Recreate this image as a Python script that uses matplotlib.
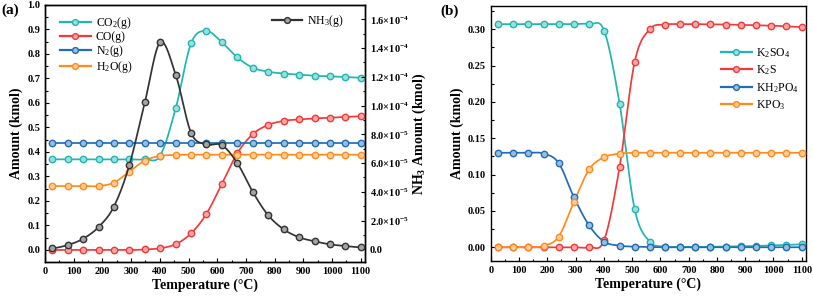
"""Equilibrium gas / potassium species vs temperature (two panels)."""

import matplotlib

matplotlib.use("Agg")
import matplotlib.pyplot as plt
import numpy as np
from matplotlib.colors import to_rgb
from matplotlib.ticker import FixedLocator, MultipleLocator

plt.rcParams["font.family"] = ["Liberation Serif", "DejaVu Serif"]
plt.rcParams["mathtext.default"] = "regular"

CYAN = "#1fb7b2"
RED = "#f23a3a"
BLUE = "#1f6db5"
ORANGE = "#ff8c1a"
BLACK = "#333333"

temps = [25, 79, 133, 187, 240, 294, 348, 401, 456, 509, 562,
         616, 670, 724, 777, 831, 885, 939, 992, 1046, 1100]

# panel (a), left axis
co2 = [0.370, 0.370, 0.370, 0.370, 0.370, 0.370, 0.370, 0.385, 0.581, 0.844, 0.894,
       0.848, 0.786, 0.744, 0.728, 0.720, 0.716, 0.711, 0.709, 0.706, 0.703]
co = [0.000, 0.000, 0.000, 0.000, 0.000, 0.000, 0.002, 0.007, 0.024, 0.068, 0.147,
      0.269, 0.395, 0.473, 0.510, 0.527, 0.533, 0.537, 0.540, 0.543, 0.546]
n2 = [0.436] * 21
h2o = [0.261, 0.261, 0.261, 0.261, 0.275, 0.320, 0.365, 0.384, 0.388, 0.389, 0.389,
       0.389, 0.389, 0.389, 0.389, 0.389, 0.389, 0.389, 0.389, 0.389, 0.389]
# panel (a), right axis
nh3 = [0.7e-6, 3.0e-6, 7.4e-6, 1.56e-5, 2.98e-5, 5.87e-5, 1.025e-4, 1.44e-4, 1.21e-4,
       8.1e-5, 7.3e-5, 7.25e-5, 6.0e-5, 3.99e-5, 2.38e-5, 1.40e-5, 8.4e-6, 5.6e-6,
       3.5e-6, 2.3e-6, 1.4e-6]

# panel (b)
k2so4 = [0.307, 0.307, 0.307, 0.307, 0.307, 0.307, 0.307, 0.298, 0.197, 0.0525, 0.0077,
         0.001, 0.0005, 0.0005, 0.0007, 0.001, 0.0013, 0.0018, 0.0025, 0.0033, 0.004]
k2s = [0.0, 0.0, 0.0, 0.0, 0.0, 0.0, 0.0, 0.010, 0.111, 0.255, 0.300,
       0.3065, 0.307, 0.307, 0.3068, 0.3065, 0.306, 0.3055, 0.305, 0.304, 0.303]
kh2po4 = [0.130, 0.130, 0.130, 0.129, 0.116, 0.069, 0.030, 0.0077, 0.0022, 0.0008, 0.0003,
          0.0, 0.0, 0.0, 0.0, 0.0, 0.0, 0.0, 0.0, 0.0, 0.0]
kpo3 = [0.0, 0.0, 0.0, 0.0018, 0.0145, 0.062, 0.107, 0.124, 0.1288, 0.130, 0.130,
        0.130, 0.130, 0.130, 0.130, 0.130, 0.130, 0.130, 0.130, 0.130, 0.130]

nh3_ticks = [0, 2e-5, 4e-5, 6e-5, 8e-5, 1e-4, 1.2e-4, 1.4e-4, 1.6e-4]
nh3_labels = ["0.0", r"2.0×10$^{-5}$", r"4.0×10$^{-5}$", r"6.0×10$^{-5}$", r"8.0×10$^{-5}$",
              r"1.0×10$^{-4}$", r"1.2×10$^{-4}$", r"1.4×10$^{-4}$", r"1.6×10$^{-4}$"]


def smooth(x, y, n=24):
    """Catmull-Rom curve through the data points (drawing only)."""
    x = np.asarray(x, float)
    y = np.asarray(y, float)
    xs, ys = [], []
    t = np.linspace(0, 1, n)
    h00 = 2 * t**3 - 3 * t**2 + 1
    h10 = t**3 - 2 * t**2 + t
    h01 = -2 * t**3 + 3 * t**2
    h11 = t**3 - t**2
    for i in range(len(x) - 1):
        p0 = y[i - 1] if i > 0 else y[i]
        p3 = y[i + 2] if i + 2 < len(y) else y[i + 1]
        m1 = (y[i + 1] - p0) / 2
        m2 = (p3 - y[i]) / 2
        xs.append(x[i] + (x[i + 1] - x[i]) * t)
        ys.append(h00 * y[i] + h10 * m1 + h01 * y[i + 1] + h11 * m2)
    return np.concatenate(xs), np.concatenate(ys)


def tint(c, f=0.55):
    r = np.array(to_rgb(c))
    return tuple(r + (1 - r) * f)


def series(ax, y, color, label):
    sx, sy = smooth(temps, y)
    ax.plot(sx, sy, color=color, lw=1.25, zorder=3)
    ax.plot(temps, y, ls="none", marker="o", ms=4.6, mfc=tint(color), mec=color,
            mew=1.0, zorder=4)
    # legend proxy
    return ax.plot([], [], color=color, lw=1.6, marker="o", ms=4.2, mfc=tint(color),
                   mec=color, mew=1.0, label=label)[0]


def style_axis(ax):
    ax.tick_params(which="both", direction="in", labelsize=7.5, width=0.8)
    ax.tick_params(which="major", length=3)
    ax.tick_params(which="minor", length=1.8)
    for lab in ax.get_xticklabels() + ax.get_yticklabels():
        lab.set_fontweight("bold")
    for sp in ax.spines.values():
        sp.set_linewidth(1.0)


fig = plt.figure(figsize=(8.13, 3.01), dpi=100)

# ---- panel (a)
ax1 = fig.add_axes([0.0554, 0.1296, 0.3936, 0.8538])
h_co2 = series(ax1, co2, CYAN, "CO$_2$(g)")
h_co = series(ax1, co, RED, "CO(g)")
h_n2 = series(ax1, n2, BLUE, "N$_2$(g)")
h_h2o = series(ax1, h2o, ORANGE, "H$_2$O(g)")
ax1.set_xlim(0, 1115)
ax1.set_ylim(-0.049, 1.0)
ax1.xaxis.set_major_locator(MultipleLocator(100))
ax1.xaxis.set_minor_locator(MultipleLocator(50))
ax1.yaxis.set_major_locator(MultipleLocator(0.1))
ax1.yaxis.set_minor_locator(MultipleLocator(0.05))
ax1.set_xlabel("Temperature (°C)", fontsize=10, fontweight="bold", labelpad=2)
ax1.set_ylabel("Amount (kmol)", fontsize=10, fontweight="bold", labelpad=3)
ax1.tick_params(top=False, right=False)

ax1r = ax1.twinx()
h_nh3 = series(ax1r, nh3, BLACK, "NH$_3$(g)")
ax1r.set_ylim(-0.88e-5, 1.70e-4)
ax1r.yaxis.set_major_locator(FixedLocator(nh3_ticks))
ax1r.set_yticklabels(nh3_labels)
ax1r.yaxis.set_minor_locator(MultipleLocator(1e-5))
ax1r.set_ylabel("NH$_3$ Amount (kmol)", fontsize=10, fontweight="bold", labelpad=1)
style_axis(ax1)
style_axis(ax1r)

leg1 = ax1.legend(handles=[h_co2, h_co, h_n2, h_h2o], loc="upper left",
                  bbox_to_anchor=(0.025, 0.99), frameon=False, fontsize=8.5,
                  handlelength=2.6, handletextpad=0.4, labelspacing=0.02,
                  borderaxespad=0.2)
leg2 = ax1r.legend(handles=[h_nh3], loc="upper right", bbox_to_anchor=(0.955, 0.995),
                   frameon=False, fontsize=8.5, handlelength=2.6, handletextpad=0.4,
                   borderaxespad=0.2)
fig.text(0.002, 0.955, "(a)", fontsize=11, fontweight="bold")

# ---- panel (b)
ax2 = fig.add_axes([0.6036, 0.1339, 0.3878, 0.8462])
h1 = series(ax2, k2so4, CYAN, "K$_2$SO$_4$")
h2 = series(ax2, k2s, RED, "K$_2$S")
h3 = series(ax2, kh2po4, BLUE, "KH$_2$PO$_4$")
h4 = series(ax2, kpo3, ORANGE, "KPO$_3$")
ax2.set_xlim(0, 1115)
ax2.set_ylim(-0.0185, 0.332)
ax2.xaxis.set_major_locator(MultipleLocator(100))
ax2.xaxis.set_minor_locator(MultipleLocator(50))
ax2.yaxis.set_major_locator(MultipleLocator(0.05))
ax2.yaxis.set_minor_locator(MultipleLocator(0.025))
ax2.yaxis.set_major_formatter(plt.FormatStrFormatter("%.2f"))
ax2.set_xlabel("Temperature (°C)", fontsize=10, fontweight="bold", labelpad=2)
ax2.set_ylabel("Amount (kmol)", fontsize=10, fontweight="bold", labelpad=3)
style_axis(ax2)
ax2.legend(handles=[h1, h2, h3, h4], loc="upper right", bbox_to_anchor=(1.0, 0.87),
           frameon=False, fontsize=8.5, handlelength=2.6, handletextpad=0.4,
           labelspacing=0.3, borderaxespad=0.2)
fig.text(0.542, 0.95, "(b)", fontsize=11, fontweight="bold")

fig.savefig("out.png", dpi=100)
